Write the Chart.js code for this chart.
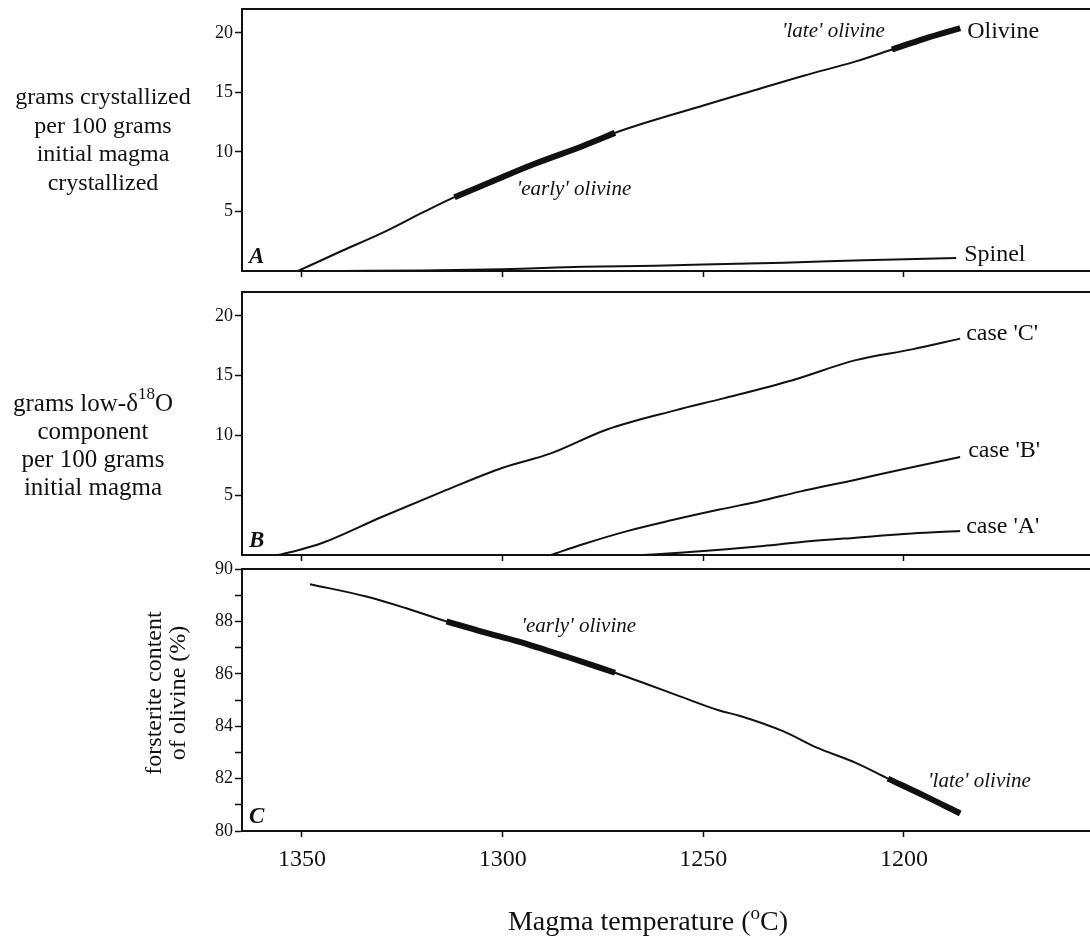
<!DOCTYPE html>
<html>
<head>
<meta charset="utf-8">
<title>Olivine crystallization and magma temperature</title>
<script src="https://cdn.jsdelivr.net/npm/chart.js@4.4.1/dist/chart.umd.min.js"></script>
<style>
  html, body { margin: 0; padding: 0; background: #fff; }
  #wrap { position: relative; width: 1090px; height: 939px; overflow: hidden; }
  #wrap canvas { position: absolute; left: 0; }
</style>
</head>
<body>
<div id="wrap">
  <canvas id="panelA" width="1090" height="305" style="top:-10px"></canvas>
  <canvas id="panelB" width="1090" height="308" style="top:272px"></canvas>
  <canvas id="panelC" width="1090" height="390" style="top:549px"></canvas>
</div>
<script>
// ---- values ----
// shared x axis (magma temperature, degrees C, decreasing to the right)
const tempTicks = [1350, 1300, 1250, 1200];

// panel A: grams crystallized per 100 g initial magma
const olivineT = [1351, 1340, 1330, 1320, 1312, 1300, 1292, 1280, 1272, 1262, 1250, 1240, 1225, 1212, 1203, 1195, 1186];
const olivineV = [0, 1.7, 3.2, 4.9, 6.2, 7.9, 9.0, 10.5, 11.6, 12.7, 13.9, 14.9, 16.4, 17.6, 18.6, 19.5, 20.4];
const spinelT = [1340, 1320, 1300, 1290, 1280, 1262, 1250, 1230, 1210, 1187];
const spinelV = [0, 0.05, 0.15, 0.25, 0.35, 0.45, 0.55, 0.7, 0.9, 1.1];

// panel B: grams low-d18O component per 100 g initial magma
const caseCT = [1356, 1351, 1345, 1330, 1315, 1300, 1288, 1274, 1257, 1245, 1228, 1212, 1198, 1186];
const caseCV = [0, 0.4, 1.0, 3.2, 5.3, 7.3, 8.5, 10.5, 12.1, 13.1, 14.6, 16.3, 17.2, 18.1];
const caseBT = [1288, 1280, 1269, 1258, 1246, 1236, 1226, 1212, 1200, 1186];
const caseBV = [0, 0.9, 2.0, 2.9, 3.8, 4.5, 5.3, 6.3, 7.2, 8.2];
const caseAT = [1265, 1255, 1245, 1235, 1225, 1212, 1198, 1186];
const caseAV = [0, 0.2, 0.45, 0.75, 1.1, 1.45, 1.8, 2.0];

// panel C: forsterite content of olivine (%)
const foT = [1348, 1334, 1324, 1314, 1305, 1296, 1284, 1272, 1264, 1256, 1246, 1241, 1230, 1222, 1212, 1204, 1195, 1186];
const foV = [89.42, 88.95, 88.5, 88.0, 87.6, 87.23, 86.65, 86.04, 85.6, 85.15, 84.6, 84.4, 83.8, 83.2, 82.6, 82.0, 81.35, 80.67];

// temperature windows drawn as a heavy line
const earlyOlivineA = [1312, 1272];
const lateOlivineA = [1203, 1186];
const earlyOlivineC = [1314, 1272];
const lateOlivineC = [1204, 1186];

// ---- styling ----
const INK = '#111';
const SERIF = '"Liberation Serif", "Times New Roman", serif';
const X_MIN = 1153.65;
const X_MAX = 1364.95;

function points(ts, vs) {
    return ts.map((t, i) => ({ x: t, y: vs[i] }));
}

// keep only the points inside a temperature window
function windowed(ts, vs, range) {
    const hi = Math.max(range[0], range[1]);
    const lo = Math.min(range[0], range[1]);
    return points(ts, vs).filter(p => p.x <= hi && p.x >= lo);
}

function thinLine(data) {
    return { data, borderColor: INK, borderWidth: 2, pointRadius: 0, fill: false, cubicInterpolationMode: 'monotone' };
}

function thickLine(data) {
    return { data, borderColor: INK, borderWidth: 6, borderCapStyle: 'butt', pointRadius: 0, fill: false, cubicInterpolationMode: 'monotone' };
}

// text made of runs; runs flagged sup are drawn raised and smaller
function drawRich(ctx, runs, x, y, size, align) {
    const parts = runs.map(r => (typeof r === 'string' ? { t: r } : r));
    let total = 0;
    parts.forEach(p => {
        ctx.font = (p.sup ? Math.round(size * 0.68) : size) + 'px ' + SERIF;
        p.w = ctx.measureText(p.t).width;
        total += p.w;
    });
    let cx = align === 'center' ? x - total / 2 : x;
    ctx.textAlign = 'left';
    parts.forEach(p => {
        ctx.font = (p.sup ? Math.round(size * 0.68) : size) + 'px ' + SERIF;
        ctx.fillText(p.t, cx, p.sup ? y - size * 0.38 : y);
        cx += p.w;
    });
}

const panelDecor = {
    id: 'panelDecor',
    afterDraw(chart, args, opts) {
        const ctx = chart.ctx;
        const area = chart.chartArea;
        const xs = chart.scales.x;
        const ys = chart.scales.y;
        ctx.save();

        // top frame line (the figure has no right-hand frame)
        ctx.strokeStyle = INK;
        ctx.lineWidth = 2;
        ctx.beginPath();
        ctx.moveTo(area.left - 1, area.top);
        ctx.lineTo(area.right, area.top);
        ctx.stroke();

        ctx.fillStyle = INK;

        // panel letter
        ctx.font = 'italic bold 23px ' + SERIF;
        ctx.textAlign = 'left';
        ctx.textBaseline = 'alphabetic';
        ctx.fillText(opts.letter, area.left + 7, area.bottom - 8);

        // labels anchored to data coordinates
        ctx.textBaseline = 'middle';
        (opts.labels || []).forEach(l => {
            ctx.font = l.font;
            ctx.textAlign = 'left';
            ctx.fillText(l.text, xs.getPixelForValue(l.at.x) + (l.dx || 0), ys.getPixelForValue(l.at.y) + (l.dy || 0));
        });

        // horizontal y-axis title block
        if (opts.title) {
            opts.title.lines.forEach((line, i) => {
                const runs = Array.isArray(line) ? line : [line];
                drawRich(ctx, runs, opts.title.x, area.top + opts.title.ys[i], opts.title.size, 'center');
            });
        }

        // rotated y-axis title, lines centred on one point
        if (opts.rotTitle) {
            ctx.font = opts.rotTitle.size + 'px ' + SERIF;
            opts.rotTitle.lines.forEach((line, i) => {
                ctx.save();
                ctx.translate(opts.rotTitle.xs[i], area.top + opts.rotTitle.mid);
                ctx.rotate(-Math.PI / 2);
                ctx.textAlign = 'center';
                ctx.fillText(line, 0, 0);
                ctx.restore();
            });
        }

        // x-axis title
        if (opts.xTitle) {
            ctx.textBaseline = 'alphabetic';
            drawRich(ctx, opts.xTitle.runs, opts.xTitle.x, area.bottom + opts.xTitle.dy, opts.xTitle.size, 'center');
        }
        ctx.restore();
    }
};

function buildPanel(id, cfg) {
    return new Chart(document.getElementById(id), {
        type: 'line',
        data: { datasets: cfg.datasets },
        options: {
            responsive: false,
            animation: false,
            events: [],
            layout: { padding: { top: cfg.padTop, left: 0, right: 0, bottom: 0 } },
            plugins: {
                legend: { display: false },
                tooltip: { enabled: false },
                panelDecor: cfg.decor
            },
            scales: {
                x: {
                    type: 'linear',
                    reverse: true,
                    min: X_MIN,
                    max: X_MAX,
                    afterBuildTicks: scale => {
                        scale.ticks = tempTicks.map(v => ({ value: v }));
                    },
                    afterFit: scale => { scale.height = cfg.xHeight; },
                    grid: { drawOnChartArea: false, drawTicks: true, tickLength: 6, tickWidth: 1.5, tickColor: INK },
                    border: { display: true, color: INK, width: 2 },
                    ticks: {
                        display: cfg.showX,
                        color: INK,
                        padding: 8,
                        maxRotation: 0,
                        font: { family: SERIF, size: 24 },
                        callback: v => String(v)
                    }
                },
                y: {
                    min: cfg.yMin,
                    max: cfg.yMax,
                    afterFit: scale => { scale.width = 242; },
                    grid: {
                        drawOnChartArea: false,
                        drawTicks: true,
                        tickLength: 7,
                        tickWidth: 1.5,
                        // no tick mark at the zero line of panels A and B
                        tickColor: c => (c.tick && c.tick.value === 0 ? 'rgba(0,0,0,0)' : INK)
                    },
                    border: { display: true, color: INK, width: 2 },
                    ticks: {
                        stepSize: cfg.yStep,
                        includeBounds: false,
                        autoSkip: false,
                        color: INK,
                        padding: 2,
                        font: { family: SERIF, size: 18 },
                        callback: cfg.yLabel
                    }
                }
            }
        },
        plugins: [panelDecor]
    });
}

const endFont = '24px ' + SERIF;
const noteFont = 'italic 21px ' + SERIF;
const last = (ts, vs) => ({ x: ts[ts.length - 1], y: vs[vs.length - 1] });

// Panel A
buildPanel('panelA', {
    padTop: 19, xHeight: 24, showX: false,
    yMin: 0, yMax: 22, yStep: 5,
    yLabel: v => (v === 0 ? '' : v),
    datasets: [
        thinLine(points(olivineT, olivineV)),
        thinLine(points(spinelT, spinelV)),
        thickLine(windowed(olivineT, olivineV, earlyOlivineA)),
        thickLine(windowed(olivineT, olivineV, lateOlivineA))
    ],
    decor: {
        letter: 'A',
        labels: [
            { text: 'Olivine', at: last(olivineT, olivineV), dx: 7, dy: 4, font: endFont },
            { text: 'Spinel', at: last(spinelT, spinelV), dx: 8, dy: -3, font: endFont },
            { text: "'late' olivine", at: { x: 1230.4, y: 20.1 }, font: noteFont },
            { text: "'early' olivine", at: { x: 1296.5, y: 6.83 }, font: noteFont }
        ],
        title: {
            x: 103, size: 24, ys: [89, 118, 146, 175],
            lines: ['grams crystallized', 'per 100 grams', 'initial magma', 'crystallized']
        }
    }
});

// Panel B
buildPanel('panelB', {
    padTop: 20, xHeight: 25, showX: false,
    yMin: 0, yMax: 22, yStep: 5,
    yLabel: v => (v === 0 ? '' : v),
    datasets: [
        thinLine(points(caseCT, caseCV)),
        thinLine(points(caseBT, caseBV)),
        thinLine(points(caseAT, caseAV))
    ],
    decor: {
        letter: 'B',
        labels: [
            { text: "case 'C'", at: last(caseCT, caseCV), dx: 6, dy: -5, font: endFont },
            { text: "case 'B'", at: last(caseBT, caseBV), dx: 8, dy: -6, font: endFont },
            { text: "case 'A'", at: last(caseAT, caseAV), dx: 6, dy: -4, font: endFont }
        ],
        title: {
            x: 93, size: 25, ys: [112, 140, 168, 196],
            lines: [['grams low-δ', { t: '18', sup: true }, 'O'], 'component', 'per 100 grams', 'initial magma']
        }
    }
});

// Panel C
buildPanel('panelC', {
    padTop: 20, xHeight: 108, showX: true,
    yMin: 80, yMax: 90, yStep: 1,
    yLabel: v => (v % 2 === 0 ? v : ''),
    datasets: [
        thinLine(points(foT, foV)),
        thickLine(windowed(foT, foV, earlyOlivineC)),
        thickLine(windowed(foT, foV, lateOlivineC))
    ],
    decor: {
        letter: 'C',
        labels: [
            { text: "'early' olivine", at: { x: 1295.3, y: 87.8 }, font: noteFont },
            { text: "'late' olivine", at: { x: 1194, y: 81.88 }, font: noteFont }
        ],
        rotTitle: { size: 24, xs: [155, 179], mid: 124, lines: ['forsterite content', 'of olivine (%)'] },
        xTitle: { x: 648, dy: 99, size: 28, runs: ['Magma temperature (', { t: 'o', sup: true }, 'C)'] }
    }
});
</script>
</body>
</html>
